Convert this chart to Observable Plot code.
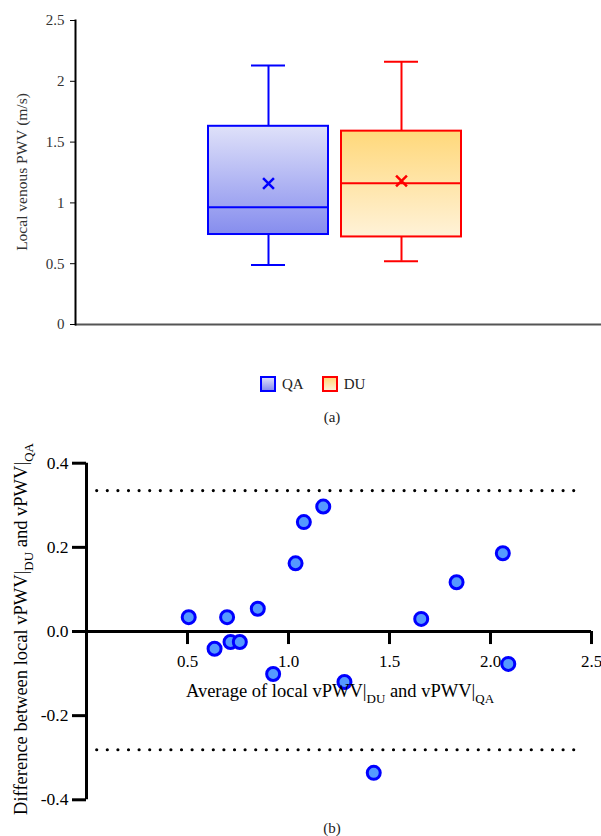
<!DOCTYPE html>
<html><head><meta charset="utf-8">
<script src="https://cdn.jsdelivr.net/npm/d3@7"></script>
<script src="https://cdn.jsdelivr.net/npm/@observablehq/plot@0.6"></script>
<style>
body{margin:0;background:#fff;font-family:'Liberation Serif','Tinos','Times New Roman',Times,'DejaVu Serif',serif;}
#wrap{position:relative;width:601px;height:836px;overflow:hidden;background:#fff;}
#top{position:absolute;left:0;top:0;}
#bot{position:absolute;left:0;top:430px;}
.legend{position:absolute;top:376px;left:260px;display:flex;align-items:center;font-size:15px;color:#222;line-height:16px;}
.sw{width:12px;height:12px;border:2px solid;margin-right:6px;}
.cap{position:absolute;font-size:15px;line-height:16px;color:#222;transform:translateX(-50%);}
</style></head><body>
<div id="wrap">
  <div id="top"></div>
  <div class="legend">
    <div class="sw" style="border-color:#0000ff;background:linear-gradient(#dcdef8,#8a90ee);"></div><span style="margin-right:18px">QA</span>
    <div class="sw" style="border-color:#ff0000;background:linear-gradient(#ffd87c,#fff1d6);"></div><span>DU</span>
  </div>
  <div class="cap" style="left:332px;top:409px;">(a)</div>
  <div id="bot"></div>
  <div class="cap" style="left:332px;top:820px;">(b)</div>
</div>
<script>
// ---------- (a) box plot data ----------
const groups = ["QA", "DU"];
const whiskerLow = [0.49, 0.52];
const q1 = [0.74, 0.72];
const median = [0.965, 1.162];
const q3 = [1.63, 1.59];
const whiskerHigh = [2.13, 2.16];
const mean = [1.16, 1.18];
const strokeColors = ["#0000ff", "#ff0000"];
const topTicks = [0, 0.5, 1, 1.5, 2, 2.5];

// ---------- (b) Bland-Altman data ----------
const avgVals = [0.506, 0.634, 0.696, 0.713, 0.759, 0.848, 0.924, 1.035, 1.076, 1.172, 1.277, 1.422, 1.657, 1.832, 2.061, 2.088];
const diffVals = [0.034, -0.041, 0.034, -0.025, -0.025, 0.054, -0.101, 0.162, 0.260, 0.297, -0.120, -0.336, 0.030, 0.117, 0.186, -0.077];
const limitsOfAgreement = [0.335, -0.281];
const loaExtent = [0.053, 2.454];
const xTicks = [0.5, 1.0, 1.5, 2.0, 2.5];
const yTicks = [-0.4, -0.2, 0.0, 0.2, 0.4];

const font = "'Liberation Serif','Tinos','Times New Roman',Times,'DejaVu Serif',serif";

// ---------- chart (a) ----------
const boxes = groups.map((g, i) => ({
  g, lo: whiskerLow[i], q1: q1[i], med: median[i], q3: q3[i], hi: whiskerHigh[i], mean: mean[i], c: strokeColors[i]
}));

const marksA = [
  Plot.ruleY([0], {stroke: "#555", strokeWidth: 2}),
  Plot.frame({anchor: "left", stroke: "#000", strokeWidth: 2}),
  Plot.axisY(topTicks, {tickSize: 5, tickPadding: 6, fontSize: 15, fill: "#333", label: null, tickFormat: d => String(d)}),
];
boxes.forEach(b => {
  marksA.push(
    Plot.ruleX([b], {x: "g", y1: "q3", y2: "hi", stroke: b.c, strokeWidth: 2}),
    Plot.ruleX([b], {x: "g", y1: "lo", y2: "q1", stroke: b.c, strokeWidth: 2}),
    Plot.tickY([b], {x: "g", y: "hi", stroke: b.c, strokeWidth: 2, insetLeft: 43, insetRight: 43}),
    Plot.tickY([b], {x: "g", y: "lo", stroke: b.c, strokeWidth: 2, insetLeft: 43, insetRight: 43}),
    Plot.barY([b], {x: "g", y1: "q1", y2: "q3", fill: `url(#grad${b.g})`, stroke: b.c, strokeWidth: 2}),
    Plot.tickY([b], {x: "g", y: "med", stroke: b.c, strokeWidth: 2}),
    Plot.dot([b], {x: "g", y: "mean", symbol: "times", r: 5, stroke: b.c, strokeWidth: 2.5})
  );
});

const chartA = Plot.plot({
  width: 601, height: 345,
  marginLeft: 75, marginRight: 0, marginTop: 20, marginBottom: 21,
  style: {fontFamily: font, background: "#fff"},
  x: {domain: groups, range: [207, 462], paddingInner: 0.097, paddingOuter: 0, axis: null},
  y: {domain: [0, 2.5], label: null},
  marks: marksA
});
const svgA = d3.select(chartA);
const defs = svgA.insert("defs", ":first-child");
const gQA = defs.append("linearGradient").attr("id", "gradQA").attr("x1", 0).attr("y1", 0).attr("x2", 0).attr("y2", 1);
gQA.append("stop").attr("offset", "0%").attr("stop-color", "#dfe1f9");
gQA.append("stop").attr("offset", "100%").attr("stop-color", "#868dee");
const gDU = defs.append("linearGradient").attr("id", "gradDU").attr("x1", 0).attr("y1", 0).attr("x2", 0).attr("y2", 1);
gDU.append("stop").attr("offset", "0%").attr("stop-color", "#ffd87a");
gDU.append("stop").attr("offset", "100%").attr("stop-color", "#fff2d8");
svgA.append("text")
  .attr("transform", "translate(27,172) rotate(-90)")
  .attr("text-anchor", "middle")
  .attr("font-size", 15.5).attr("fill", "#333")
  .style("font-family", font)
  .text("Local venous PWV (m/s)");
document.getElementById("top").append(chartA);

// ---------- chart (b) ----------
const pts = avgVals.map((a, i) => ({a, d: diffVals[i]}));
const chartB = Plot.plot({
  width: 601, height: 390,
  marginLeft: 86, marginRight: 10, marginTop: 32.7, marginBottom: 20.7,
  style: {fontFamily: font, background: "#fff", color: "#000"},
  x: {domain: [0, 2.5], axis: null},
  y: {domain: [-0.4, 0.4], label: null},
  marks: [
    Plot.ruleY(limitsOfAgreement, {x1: loaExtent[0], x2: loaExtent[1], stroke: "#000", strokeWidth: 3.2, strokeDasharray: "0,10.6", strokeLinecap: "round"}),
    Plot.ruleX([0], {y1: -0.4, y2: 0.4, stroke: "#000", strokeWidth: 3}),
    Plot.ruleY([0], {x1: 0, x2: 2.5, stroke: "#000", strokeWidth: 3}),
    Plot.ruleX(xTicks, {x: d => d, y1: 0, y2: -0.031, stroke: "#000", strokeWidth: 3}),
    Plot.text(xTicks, {x: d => d, y: 0, dy: 30, text: d => d.toFixed(1), fontSize: 17, fill: "#000"}),
    Plot.axisY(yTicks, {tickSize: 14, strokeWidth: 3, tickPadding: 4, fontSize: 17.5, label: null, tickFormat: d => d.toFixed(1)}),
    Plot.dot(pts, {x: "a", y: "d", r: 6.5, fill: "#5599ff", stroke: "#0000ff", strokeWidth: 3})
  ]
});
const svgB = d3.select(chartB);
const xt = svgB.append("text")
  .attr("x", 340).attr("y", 267)
  .attr("text-anchor", "middle")
  .attr("font-size", 18.5).style("font-family", font).attr("fill", "#000");
xt.append("tspan").text("Average of local vPWV|");
xt.append("tspan").attr("font-size", 13).attr("dy", 6).text("DU");
xt.append("tspan").attr("dy", -6).text(" and vPWV|");
xt.append("tspan").attr("font-size", 13).attr("dy", 6).text("QA");
const yt = svgB.append("text")
  .attr("transform", "translate(27,199) rotate(-90)")
  .attr("text-anchor", "middle")
  .attr("font-size", 18.5).style("font-family", font).attr("fill", "#000");
yt.append("tspan").text("Difference between local vPWV|");
yt.append("tspan").attr("font-size", 13).attr("dy", 6).text("DU");
yt.append("tspan").attr("dy", -6).text(" and vPWV|");
yt.append("tspan").attr("font-size", 13).attr("dy", 6).text("QA");
document.getElementById("bot").append(chartB);
</script>
</body></html>
